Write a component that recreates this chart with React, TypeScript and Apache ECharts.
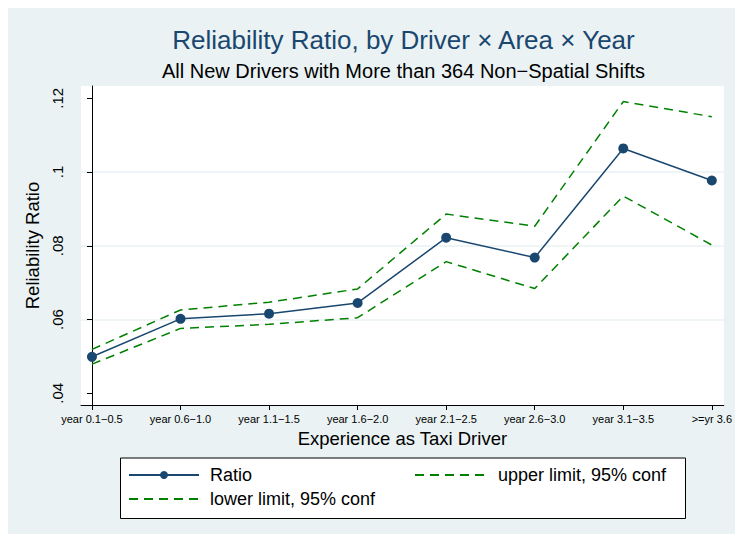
import React, { useEffect, useRef } from "react";
import * as echarts from "echarts";

const categories = [
  "year 0.1−0.5",
  "year 0.6−1.0",
  "year 1.1−1.5",
  "year 1.6−2.0",
  "year 2.1−2.5",
  "year 2.6−3.0",
  "year 3.1−3.5",
  ">=yr 3.6",
];
const ratio = [0.0499, 0.0602, 0.0616, 0.0645, 0.0822, 0.0768, 0.1064, 0.0977];
const upper = [0.0519, 0.0626, 0.0647, 0.0683, 0.0886, 0.0853, 0.1191, 0.115];
const lower = [0.0479, 0.0576, 0.0587, 0.0605, 0.0757, 0.0684, 0.0935, 0.0802];
const yTicks = [0.04, 0.06, 0.08, 0.1, 0.12];
const xTicks = [0, 1, 2, 3, 4, 5, 6, 7];

const NAVY = "#1a476f";
const GREEN = "#008000";
const BG = "#EAF2F3";
const FONT = "Liberation Sans, Arial, Helvetica, sans-serif";

const toPairs = (arr: number[]) => arr.map((v, i) => [i, v]);

const W = 727;
const H = 526;

export default function App() {
  const ref = useRef<HTMLDivElement>(null);
  useEffect(() => {
    if (!ref.current) return;
    const body = document.body;
    const prevMargin = body.style.marginRight;
    body.style.marginRight = "0px";
    const chart = echarts.init(ref.current, undefined, { renderer: "svg" });
    chart.setOption({
      animation: false,
      backgroundColor: BG,
      textStyle: { fontFamily: FONT },
      title: [
        {
          text: "Reliability Ratio, by Driver × Area × Year",
          left: 395.5,
          textAlign: "center",
          top: 19,
          padding: 0,
          textStyle: { fontSize: 26, fontWeight: "normal", color: NAVY, fontFamily: FONT },
        },
        {
          text: "All New Drivers with More than 364 Non−Spatial Shifts",
          left: 395.5,
          textAlign: "center",
          top: 53,
          padding: 0,
          textStyle: { fontSize: 20, fontWeight: "normal", color: "#000", fontFamily: FONT },
        },
      ],
      grid: {
        left: 73,
        top: 78,
        right: W - 718,
        bottom: 129,
        show: true,
        backgroundColor: "#fff",
        borderWidth: 0,
      },
      xAxis: {
        type: "value",
        min: -0.1238,
        max: 7.135,
        name: "Experience as Taxi Driver",
        nameLocation: "middle",
        nameGap: 21,
        nameTextStyle: { fontSize: 18.5, color: "#000", fontFamily: FONT },
        axisLine: { show: true, onZero: false, lineStyle: { color: "#000", width: 1 } },
        axisTick: { show: true, length: 5, customValues: xTicks, lineStyle: { color: "#000" } },
        axisLabel: {
          customValues: xTicks,
          fontSize: 11,
          color: "#000",
          margin: 8,
          formatter: (v: number) => categories[Math.round(v)] ?? "",
        },
        splitLine: { show: false },
      },
      yAxis: {
        type: "value",
        min: 0.03683,
        max: 0.12333,
        name: "Reliability Ratio",
        nameLocation: "middle",
        nameGap: 37,
        nameRotate: 90,
        nameTextStyle: { fontSize: 18.5, color: "#000", fontFamily: FONT },
        axisLine: { show: true, lineStyle: { color: "#000", width: 1 } },
        axisTick: { show: true, length: 5, customValues: yTicks, lineStyle: { color: "#000" } },
        axisLabel: {
          customValues: yTicks,
          rotate: 90,
          fontSize: 15,
          color: "#000",
          margin: 16,
          formatter: (v: number) => String(+v.toFixed(2)).replace(/^0/, ""),
        },
        splitLine: {
          show: true,
          showMinLine: false,
          showMaxLine: false,
          lineStyle: { color: BG, width: 1.5 },
        },
      },
      legend: [
        {
          data: [
            { name: "Ratio" },
            { name: "lower limit, 95% conf", itemStyle: { opacity: 0 } },
          ],
          orient: "vertical",
          left: 120,
          top: 458,
          padding: 0,
          itemWidth: 70,
          itemHeight: 10,
          itemGap: 6,
          textStyle: { fontSize: 18, color: "#000", fontFamily: FONT, lineHeight: 18, padding: [0, 0, 0, 6] },
        },
        {
          data: [{ name: "upper limit, 95% conf", itemStyle: { opacity: 0 } }],
          orient: "vertical",
          left: 406,
          top: 458,
          padding: 0,
          itemWidth: 70,
          itemHeight: 10,
          itemGap: 6,
          textStyle: { fontSize: 18, color: "#000", fontFamily: FONT, lineHeight: 18, padding: [0, 0, 0, 8] },
        },
      ],
      graphic: [
        {
          type: "rect",
          z: 0,
          shape: { x: 112.5, y: 450, width: 565, height: 60.5 },
          style: { fill: "#fff", stroke: "#000", lineWidth: 1 },
        },
      ],
      series: [
        {
          name: "Ratio",
          type: "line",
          data: toPairs(ratio),
          symbol: "circle",
          symbolSize: 10,
          itemStyle: { color: NAVY },
          lineStyle: { color: NAVY, width: 1.5 },
          z: 3,
        },
        {
          name: "upper limit, 95% conf",
          type: "line",
          data: toPairs(upper),
          symbol: "none",
          itemStyle: { color: GREEN },
          lineStyle: { color: GREEN, width: 1.5, type: [9, 6] },
        },
        {
          name: "lower limit, 95% conf",
          type: "line",
          data: toPairs(lower),
          symbol: "none",
          itemStyle: { color: GREEN },
          lineStyle: { color: GREEN, width: 1.5, type: [9, 6] },
        },
      ],
    });
    return () => {
      chart.dispose();
      body.style.marginRight = prevMargin;
    };
  }, []);
  return <div ref={ref} style={{ width: W, height: H }} />;
}
